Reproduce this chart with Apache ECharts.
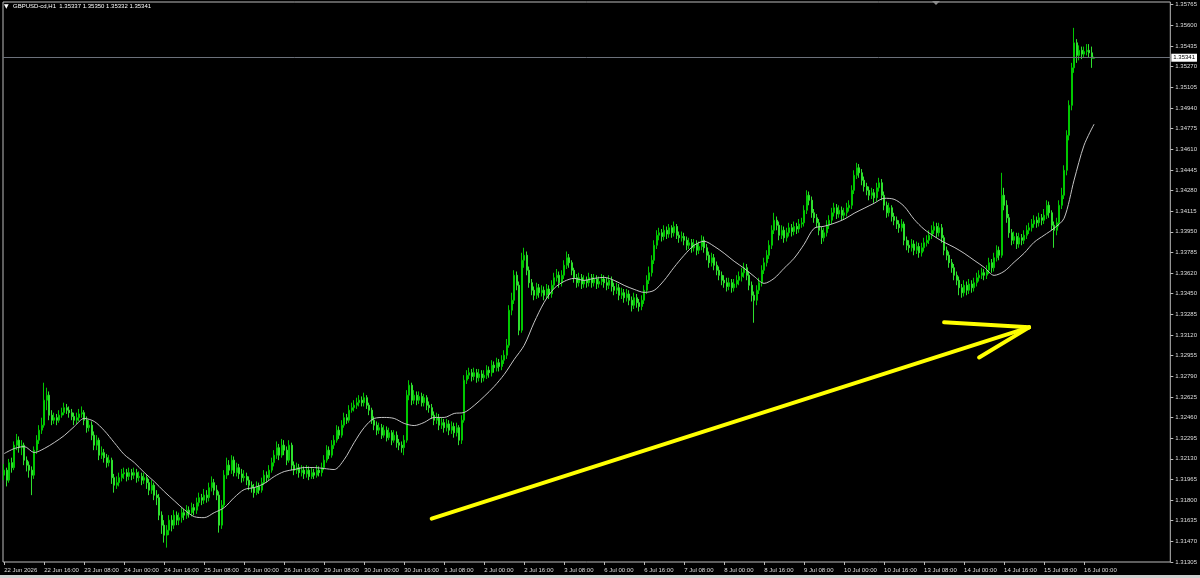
<!DOCTYPE html>
<html><head><meta charset="utf-8">
<script src="https://cdn.jsdelivr.net/npm/echarts@6/dist/echarts.min.js"></script>
<style>html,body{margin:0;padding:0;background:#000;}#c{width:1200px;height:578px;}</style>
</head><body><div id="c"></div>
<script>
const symbolTitle = 'GBPUSD-cd,H1';
const firstOpen = 1.3200;
const closes = [
1.3204,1.3196,1.3210,1.3206,1.3224,1.3228,1.3222,1.3224,1.3212,1.3208,1.3204,1.3200,1.3220,1.3228,1.3236,1.3240,
1.3260,1.3264,1.3248,1.3244,1.3246,1.3244,1.3248,1.3250,1.3254,1.3252,1.3250,1.3247,1.3244,1.3246,1.3249,1.3250,
1.3244,1.3238,1.3240,1.3232,1.3224,1.3228,1.3216,1.3218,1.3214,1.3210,1.3212,1.3198,1.3192,1.3194,1.3198,1.3201,
1.3202,1.3199,1.3202,1.3200,1.3202,1.3198,1.3199,1.3196,1.3198,1.3194,1.3188,1.3192,1.3184,1.3182,1.3168,1.3160,
1.3152,1.3156,1.3164,1.3160,1.3168,1.3164,1.3166,1.3170,1.3168,1.3172,1.3170,1.3174,1.3172,1.3178,1.3182,1.3180,
1.3184,1.3182,1.3190,1.3194,1.3188,1.3184,1.3160,1.3176,1.3200,1.3208,1.3204,1.3212,1.3202,1.3206,1.3201,1.3198,
1.3199,1.3196,1.3192,1.3190,1.3186,1.3191,1.3188,1.3194,1.3200,1.3198,1.3204,1.3210,1.3216,1.3222,1.3216,1.3224,
1.3220,1.3212,1.3224,1.3208,1.3204,1.3206,1.3202,1.3204,1.3201,1.3204,1.3199,1.3202,1.3200,1.3204,1.3202,1.3206,
1.3212,1.3220,1.3216,1.3224,1.3228,1.3236,1.3232,1.3240,1.3246,1.3244,1.3252,1.3254,1.3256,1.3258,1.3260,1.3258,
1.3262,1.3256,1.3252,1.3244,1.3240,1.3236,1.3238,1.3232,1.3236,1.3230,1.3234,1.3228,1.3232,1.3226,1.3224,1.3222,
1.3228,1.3264,1.3272,1.3260,1.3264,1.3260,1.3263,1.3258,1.3262,1.3256,1.3254,1.3248,1.3244,1.3246,1.3240,1.3242,
1.3238,1.3241,1.3236,1.3239,1.3234,1.3238,1.3228,1.3244,1.3276,1.3280,1.3282,1.3279,1.3282,1.3278,1.3281,1.3278,
1.3280,1.3284,1.3282,1.3288,1.3286,1.3290,1.3287,1.3292,1.3296,1.3304,1.3332,1.3340,1.3360,1.3352,1.3316,1.3372,
1.3376,1.3364,1.3354,1.3348,1.3344,1.3350,1.3346,1.3348,1.3344,1.3349,1.3345,1.3352,1.3358,1.3360,1.3354,1.3360,
1.3368,1.3374,1.3370,1.3364,1.3358,1.3354,1.3358,1.3353,1.3356,1.3354,1.3358,1.3354,1.3357,1.3353,1.3355,1.3357,
1.3354,1.3352,1.3356,1.3351,1.3348,1.3350,1.3344,1.3346,1.3342,1.3345,1.3340,1.3336,1.3342,1.3338,1.3335,1.3340,
1.3348,1.3356,1.3362,1.3372,1.3384,1.3392,1.3394,1.3391,1.3396,1.3393,1.3398,1.3394,1.3399,1.3392,1.3390,1.3391,
1.3388,1.3384,1.3386,1.3382,1.3385,1.3380,1.3383,1.3388,1.3382,1.3376,1.3370,1.3374,1.3368,1.3364,1.3360,1.3356,
1.3354,1.3351,1.3354,1.3350,1.3353,1.3356,1.3359,1.3362,1.3366,1.3360,1.3352,1.3344,1.3340,1.3348,1.3354,1.3364,
1.3370,1.3376,1.3384,1.3396,1.3404,1.3400,1.3392,1.3396,1.3390,1.3394,1.3398,1.3395,1.3399,1.3397,1.3401,1.3402,
1.3412,1.3424,1.3420,1.3410,1.3406,1.3402,1.3396,1.3390,1.3394,1.3400,1.3404,1.3410,1.3414,1.3409,1.3412,1.3408,
1.3410,1.3414,1.3416,1.3428,1.3440,1.3446,1.3442,1.3436,1.3431,1.3428,1.3424,1.3426,1.3422,1.3430,1.3434,1.3424,
1.3416,1.3410,1.3414,1.3407,1.3404,1.3401,1.3398,1.3401,1.3388,1.3384,1.3382,1.3385,1.3380,1.3383,1.3378,1.3382,
1.3386,1.3388,1.3392,1.3396,1.3399,1.3394,1.3398,1.3390,1.3380,1.3376,1.3370,1.3366,1.3360,1.3356,1.3350,1.3346,
1.3352,1.3348,1.3353,1.3350,1.3354,1.3358,1.3360,1.3362,1.3360,1.3364,1.3370,1.3366,1.3374,1.3380,1.3376,1.3424,
1.3416,1.3406,1.3394,1.3388,1.3391,1.3385,1.3390,1.3388,1.3392,1.3396,1.3398,1.3401,1.3404,1.3402,1.3406,1.3404,
1.3408,1.3416,1.3410,1.3400,1.3396,1.3402,1.3416,1.3424,1.3444,1.3472,1.3496,1.3526,1.3546,1.3536,1.3540,1.3537,
1.3539,1.3540,1.3538,1.35337,1.35341
];
const highs = [
1.3209,1.3206,1.3213,1.3214,1.3227,1.3233,1.3231,1.3228,1.3226,1.3215,1.3211,1.3207,1.3223,1.3232,1.3240,1.3246,
1.3274,1.3270,1.3267,1.3252,1.3250,1.3249,1.3252,1.3254,1.3258,1.3257,1.3255,1.3253,1.3250,1.3250,1.3253,1.3255,
1.3252,1.3247,1.3244,1.3243,1.3235,1.3232,1.3230,1.3223,1.3221,1.3217,1.3216,1.3214,1.3201,1.3199,1.3202,1.3205,
1.3206,1.3205,1.3206,1.3205,1.3206,1.3205,1.3203,1.3202,1.3202,1.3200,1.3197,1.3196,1.3194,1.3188,1.3185,1.3171,
1.3164,1.3160,1.3168,1.3168,1.3172,1.3171,1.3170,1.3174,1.3173,1.3176,1.3175,1.3178,1.3177,1.3182,1.3186,1.3185,
1.3189,1.3188,1.3194,1.3199,1.3197,1.3192,1.3187,1.3180,1.3204,1.3214,1.3212,1.3216,1.3215,1.3210,1.3209,1.3205,
1.3204,1.3202,1.3199,1.3195,1.3193,1.3195,1.3194,1.3198,1.3204,1.3203,1.3208,1.3214,1.3220,1.3227,1.3225,1.3229,
1.3228,1.3223,1.3228,1.3226,1.3211,1.3210,1.3209,1.3208,1.3207,1.3208,1.3207,1.3206,1.3205,1.3208,1.3207,1.3210,
1.3216,1.3224,1.3223,1.3228,1.3232,1.3240,1.3239,1.3244,1.3250,1.3249,1.3256,1.3258,1.3260,1.3262,1.3264,1.3263,
1.3266,1.3264,1.3258,1.3254,1.3247,1.3243,1.3242,1.3241,1.3240,1.3239,1.3238,1.3236,1.3236,1.3235,1.3229,1.3227,
1.3232,1.3268,1.3276,1.3274,1.3268,1.3267,1.3267,1.3266,1.3265,1.3264,1.3259,1.3257,1.3251,1.3250,1.3249,1.3246,
1.3245,1.3245,1.3244,1.3243,1.3242,1.3242,1.3240,1.3248,1.3280,1.3284,1.3286,1.3285,1.3286,1.3285,1.3285,1.3284,
1.3284,1.3288,1.3287,1.3292,1.3291,1.3294,1.3293,1.3296,1.3300,1.3309,1.3336,1.3346,1.3364,1.3363,1.3355,1.3378,
1.3382,1.3379,1.3367,1.3357,1.3351,1.3354,1.3353,1.3352,1.3351,1.3353,1.3352,1.3356,1.3362,1.3365,1.3363,1.3364,
1.3372,1.3379,1.3377,1.3372,1.3366,1.3361,1.3362,1.3361,1.3360,1.3359,1.3362,1.3361,1.3361,1.3360,1.3359,1.3361,
1.3360,1.3358,1.3360,1.3359,1.3354,1.3354,1.3353,1.3350,1.3349,1.3349,1.3348,1.3343,1.3346,1.3345,1.3341,1.3344,
1.3352,1.3360,1.3367,1.3376,1.3388,1.3396,1.3398,1.3397,1.3400,1.3399,1.3401,1.3400,1.3403,1.3401,1.3395,1.3395,
1.3394,1.3391,1.3390,1.3389,1.3389,1.3388,1.3387,1.3392,1.3391,1.3385,1.3379,1.3378,1.3377,1.3371,1.3367,1.3363,
1.3360,1.3358,1.3358,1.3357,1.3357,1.3360,1.3363,1.3366,1.3370,1.3369,1.3363,1.3355,1.3347,1.3352,1.3358,1.3368,
1.3374,1.3380,1.3388,1.3400,1.3410,1.3407,1.3403,1.3400,1.3399,1.3398,1.3402,1.3401,1.3403,1.3402,1.3405,1.3406,
1.3416,1.3428,1.3427,1.3423,1.3413,1.3409,1.3405,1.3399,1.3398,1.3404,1.3408,1.3414,1.3418,1.3417,1.3416,1.3415,
1.3414,1.3418,1.3420,1.3432,1.3444,1.3450,1.3449,1.3445,1.3439,1.3434,1.3431,1.3430,1.3429,1.3434,1.3438,1.3437,
1.3427,1.3419,1.3418,1.3416,1.3410,1.3407,1.3404,1.3405,1.3403,1.3391,1.3388,1.3389,1.3388,1.3387,1.3386,1.3386,
1.3390,1.3392,1.3396,1.3400,1.3403,1.3402,1.3402,1.3401,1.3392,1.3383,1.3379,1.3373,1.3369,1.3363,1.3359,1.3353,
1.3356,1.3355,1.3357,1.3356,1.3358,1.3362,1.3364,1.3366,1.3365,1.3368,1.3374,1.3373,1.3378,1.3384,1.3383,1.3442,
1.3430,1.3420,1.3409,1.3397,1.3395,1.3394,1.3394,1.3393,1.3396,1.3400,1.3402,1.3405,1.3408,1.3407,1.3410,1.3409,
1.3413,1.3420,1.3419,1.3412,1.3403,1.3406,1.3420,1.3430,1.3448,1.3476,1.3500,1.3530,1.3558,1.3549,1.3544,1.3543,
1.3543,1.3545,1.3545,1.3543,1.35350
];
const lows = [
1.3196,1.3191,1.3194,1.3202,1.3204,1.3220,1.3218,1.3216,1.3208,1.3203,1.3198,1.3184,1.3197,1.3217,1.3225,1.3233,
1.3238,1.3252,1.3244,1.3240,1.3241,1.3240,1.3242,1.3246,1.3248,1.3249,1.3246,1.3244,1.3240,1.3241,1.3243,1.3246,
1.3240,1.3234,1.3235,1.3228,1.3220,1.3220,1.3212,1.3213,1.3210,1.3206,1.3207,1.3193,1.3186,1.3189,1.3191,1.3195,
1.3197,1.3195,1.3196,1.3196,1.3197,1.3194,1.3195,1.3192,1.3193,1.3189,1.3184,1.3185,1.3180,1.3176,1.3164,1.3153,
1.3146,1.3142,1.3152,1.3155,1.3157,1.3160,1.3160,1.3162,1.3164,1.3165,1.3166,1.3167,1.3168,1.3169,1.3175,1.3176,
1.3177,1.3178,1.3179,1.3187,1.3184,1.3180,1.3154,1.3157,1.3174,1.3197,1.3200,1.3201,1.3199,1.3199,1.3197,1.3194,
1.3195,1.3192,1.3188,1.3186,1.3182,1.3184,1.3185,1.3186,1.3192,1.3194,1.3196,1.3202,1.3207,1.3213,1.3212,1.3214,
1.3216,1.3208,1.3210,1.3204,1.3200,1.3201,1.3198,1.3199,1.3197,1.3198,1.3196,1.3197,1.3197,1.3198,1.3199,1.3199,
1.3204,1.3210,1.3213,1.3214,1.3221,1.3226,1.3229,1.3230,1.3238,1.3241,1.3242,1.3250,1.3251,1.3253,1.3255,1.3255,
1.3255,1.3253,1.3248,1.3241,1.3236,1.3232,1.3233,1.3229,1.3230,1.3227,1.3228,1.3224,1.3226,1.3222,1.3220,1.3218,
1.3216,1.3226,1.3260,1.3256,1.3257,1.3256,1.3257,1.3255,1.3255,1.3252,1.3250,1.3245,1.3240,1.3241,1.3236,1.3237,
1.3234,1.3235,1.3232,1.3233,1.3230,1.3231,1.3224,1.3225,1.3242,1.3273,1.3277,1.3275,1.3276,1.3274,1.3275,1.3274,
1.3275,1.3277,1.3278,1.3279,1.3282,1.3283,1.3283,1.3284,1.3289,1.3293,1.3302,1.3328,1.3337,1.3348,1.3312,1.3314,
1.3366,1.3360,1.3350,1.3344,1.3340,1.3341,1.3342,1.3343,1.3340,1.3341,1.3341,1.3342,1.3349,1.3355,1.3350,1.3351,
1.3357,1.3365,1.3366,1.3360,1.3354,1.3350,1.3351,1.3349,1.3350,1.3350,1.3351,1.3350,1.3351,1.3349,1.3350,1.3352,
1.3350,1.3348,1.3349,1.3347,1.3344,1.3345,1.3340,1.3341,1.3338,1.3339,1.3336,1.3331,1.3333,1.3334,1.3331,1.3332,
1.3337,1.3345,1.3353,1.3359,1.3369,1.3381,1.3388,1.3387,1.3388,1.3389,1.3390,1.3390,1.3391,1.3389,1.3386,1.3387,
1.3384,1.3380,1.3381,1.3378,1.3379,1.3376,1.3377,1.3380,1.3378,1.3372,1.3366,1.3367,1.3364,1.3360,1.3356,1.3352,
1.3350,1.3347,1.3348,1.3346,1.3347,1.3350,1.3352,1.3355,1.3358,1.3356,1.3348,1.3339,1.3322,1.3336,1.3345,1.3351,
1.3361,1.3367,1.3373,1.3381,1.3393,1.3396,1.3388,1.3389,1.3386,1.3387,1.3391,1.3391,1.3392,1.3393,1.3394,1.3398,
1.3399,1.3409,1.3416,1.3406,1.3402,1.3398,1.3392,1.3385,1.3387,1.3391,1.3397,1.3401,1.3407,1.3405,1.3406,1.3404,
1.3405,1.3407,1.3411,1.3413,1.3425,1.3437,1.3438,1.3432,1.3427,1.3424,1.3420,1.3421,1.3418,1.3419,1.3427,1.3420,
1.3412,1.3406,1.3407,1.3403,1.3400,1.3397,1.3394,1.3395,1.3384,1.3380,1.3378,1.3379,1.3376,1.3377,1.3374,1.3375,
1.3379,1.3383,1.3385,1.3389,1.3393,1.3390,1.3391,1.3386,1.3376,1.3372,1.3366,1.3362,1.3356,1.3352,1.3344,1.3342,
1.3343,1.3344,1.3345,1.3346,1.3347,1.3351,1.3355,1.3357,1.3356,1.3357,1.3361,1.3362,1.3363,1.3371,1.3372,1.3374,
1.3412,1.3402,1.3390,1.3384,1.3385,1.3381,1.3382,1.3384,1.3385,1.3389,1.3393,1.3395,1.3398,1.3398,1.3399,1.3400,
1.3401,1.3405,1.3406,1.3396,1.3382,1.3392,1.3399,1.3413,1.3421,1.3440,1.3468,1.3492,1.3522,1.3530,1.3532,1.3533,
1.3534,1.3536,1.3534,1.3526,1.35332
];
// moving average, read every 4th bar
const maEvery = 4;
const maValues = [
1.32173,1.32213,1.32229,1.32181,1.32213,1.32261,1.32317,1.32389,1.32454,1.32430,
1.32357,1.32261,1.32165,1.32101,1.32021,1.31949,1.31869,1.31796,1.31724,1.31668,
1.31660,1.31700,1.31740,1.31821,1.31885,1.31901,1.31933,1.31989,1.32029,1.32045,
1.32061,1.32061,1.32053,1.32045,1.32125,1.32261,1.32381,1.32454,1.32462,1.32454,
1.32414,1.32397,1.32422,1.32462,1.32462,1.32494,1.32502,1.32558,1.32630,1.32710,
1.32806,1.32926,1.33039,1.33223,1.33383,1.33495,1.33551,1.33575,1.33559,1.33575,
1.33583,1.33559,1.33519,1.33487,1.33463,1.33479,1.33559,1.33664,1.33760,1.33840,
1.33872,1.33832,1.33776,1.33712,1.33656,1.33591,1.33535,1.33575,1.33656,1.33736,
1.33848,1.33976,1.33992,1.34016,1.34048,1.34096,1.34136,1.34176,1.34216,1.34208,
1.34152,1.34048,1.33968,1.33912,1.33864,1.33824,1.33776,1.33720,1.33664,1.33599,
1.33631,1.33704,1.33776,1.33864,1.33920,1.33976,1.34056,1.34361,1.34641,1.34809
];
const xTickLabels = ["22 Jun 2026","22 Jun 16:00","23 Jun 08:00","24 Jun 00:00","24 Jun 16:00","25 Jun 08:00","26 Jun 00:00","26 Jun 16:00","29 Jun 08:00","30 Jun 00:00","30 Jun 16:00","1 Jul 08:00","2 Jul 00:00","2 Jul 16:00","3 Jul 08:00","6 Jul 00:00","6 Jul 16:00","7 Jul 08:00","8 Jul 00:00","8 Jul 16:00","9 Jul 08:00","10 Jul 00:00","10 Jul 16:00","13 Jul 08:00","14 Jul 00:00","14 Jul 16:00","15 Jul 08:00","16 Jul 00:00"];
const xTickEvery = 16;
const yTickLabels = ["1.31305","1.31470","1.31635","1.31800","1.31965","1.32130","1.32295","1.32460","1.32625","1.32790","1.32955","1.33120","1.33285","1.33450","1.33620","1.33785","1.33950","1.34115","1.34280","1.34445","1.34610","1.34775","1.34940","1.35105","1.35270","1.35435","1.35600","1.35765"];
const yMin = 1.31305, yTop = 1.35765, yMax = 1.35787;
// hand-drawn arrow annotation, in [bar index, price]
const arrowStrokes = [
  [[171, 1.31652], [410, 1.33183]],
  [[376, 1.33223], [410, 1.33183]],
  [[390, 1.32942], [410, 1.33183]]
];

const SLOTS = 467;
const MON = ['Jan','Feb','Mar','Apr','May','Jun','Jul','Aug','Sep','Oct','Nov','Dec'];
const categories = [];
let t = Date.UTC(2026, 5, 22, 0);
while (categories.length < SLOTS) {
  const d = new Date(t);
  const wd = d.getUTCDay();
  if (wd !== 0 && wd !== 6) {
    categories.push(d.getUTCDate() + ' ' + MON[d.getUTCMonth()] + ' ' + String(d.getUTCHours()).padStart(2,'0') + ':00');
  }
  t += 3600000;
}
const opens = closes.map((c, i) => i === 0 ? firstOpen : closes[i - 1]);
const candles = closes.map((c, i) => [opens[i], c, lows[i], highs[i]]);
const maData = maValues.map((v, k) => [k * maEvery, v]);
const yStep = (yTop - yMin) / (yTickLabels.length - 1);
const last = closes.length - 1;
const f5 = v => Number(v).toFixed(5);
const FONT = "'Liberation Sans', Arial, sans-serif";
const isTick = idx => idx % xTickEvery === 0 && idx / xTickEvery < xTickLabels.length;

const chart = echarts.init(document.getElementById('c'), null, {renderer: 'canvas'});
chart.setOption({
  animation: false,
  backgroundColor: '#000000',
  title: {
    text: symbolTitle + '  ' + f5(opens[last]) + ' ' + f5(highs[last]) + ' ' + f5(lows[last]) + ' ' + f5(closes[last]),
    left: 13, top: 3, padding: 0,
    textStyle: {color: '#ffffff', fontSize: 6, fontWeight: 'normal', fontFamily: FONT}
  },
  graphic: [
    {type: 'text', left: 4, top: 3, style: {text: '\u25BC', fill: '#ffffff', fontSize: 6, fontFamily: 'DejaVu Sans'}},
    {type: 'polygon', shape: {points: [[932, 1], [940, 1], [936, 5]]}, style: {fill: '#8c8c8c'}},
    {type: 'rect', shape: {x: 0, y: 575, width: 1200, height: 3}, style: {fill: '#cfcfcf'}}
  ],
  grid: {left: 3, right: 29, top: 2, bottom: 16, show: true, borderColor: '#bcbcbc', borderWidth: 1, backgroundColor: 'transparent'},
  xAxis: {
    type: 'category', data: categories, boundaryGap: true,
    axisLine: {show: false},
    axisTick: {show: true, alignWithLabel: true, interval: isTick, length: 3, lineStyle: {color: '#bcbcbc'}},
    axisLabel: {
      show: true, interval: isTick, align: 'left', margin: 5,
      color: '#dedede', fontSize: 6, fontFamily: FONT,
      formatter: (v, idx) => isTick(idx) ? xTickLabels[idx / xTickEvery] : ''
    },
    splitLine: {show: false}
  },
  yAxis: {
    type: 'value', position: 'right', min: yMin, max: yMax, interval: yStep, scale: true,
    axisLine: {show: false},
    axisTick: {show: true, length: 3, lineStyle: {color: '#bcbcbc'}},
    axisLabel: {
      color: '#dedede', fontSize: 6, fontFamily: FONT, margin: 5, showMaxLabel: false,
      formatter: v => { const k = (v - yMin) / yStep; const r = Math.round(k); return Math.abs(k - r) < 0.03 ? (yTickLabels[r] || '') : ''; }
    },
    splitLine: {show: false}
  },
  series: [
    {
      type: 'candlestick', data: candles, barWidth: 1.6, clip: true,
      itemStyle: {color: '#007800', color0: '#a6f5a6', borderColor: '#00c800', borderColor0: '#2ee02e', borderWidth: 1},
      markLine: {
        silent: true, symbol: ['none', 'none'], animation: false, precision: 5,
        lineStyle: {color: '#6c717b', width: 1, type: 'solid'},
        label: {show: true, position: 'end', distance: 1, formatter: p => f5(p.value), color: '#000', backgroundColor: '#ffffff', fontSize: 6, fontFamily: FONT, padding: [1, 2, 1, 2]},
        data: [{yAxis: closes[last]}]
      }
    },
    {
      type: 'line', data: maData, showSymbol: false, symbol: 'none', smooth: 0.3, clip: true,
      lineStyle: {color: '#c4c4c4', width: 1}, z: 3,
      markLine: {
        silent: true, symbol: ['none', 'none'], animation: false, precision: 5,
        lineStyle: {color: '#ffff00', width: 4, type: 'solid', cap: 'round'},
        label: {show: false},
        data: arrowStrokes.map(s => [{coord: s[0]}, {coord: s[1]}])
      }
    }
  ]
});
</script></body></html>
